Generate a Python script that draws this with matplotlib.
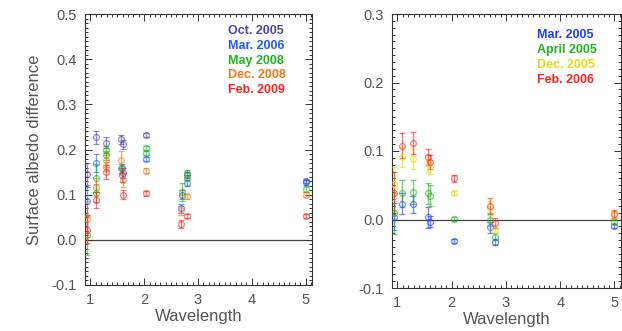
import matplotlib
matplotlib.use("Agg")
import matplotlib.pyplot as plt
from matplotlib.ticker import MultipleLocator
import numpy as np

plt.rcParams['font.family'] = ['Liberation Sans', 'DejaVu Sans']

# ---- left panel data ----
left_labels = ["Oct. 2005", "Mar. 2006", "May 2008", "Dec. 2008", "Feb. 2009"]
left_colors = ["#5540a8", "#1f5cff", "#1fb51f", "#f07a18", "#ff2020"]
left_wl = [
    [0.94, 1.10, 1.29, 1.56, 1.60, 2.04, 2.70, 2.80, 5.0],
    [0.94, 1.10, 1.58, 1.61, 2.04, 2.69, 2.80, 5.0],
    [0.94, 1.10, 1.10, 1.29, 1.29, 1.57, 2.04, 2.04, 2.70, 2.80, 2.80, 5.0],
    [0.94, 1.10, 1.29, 1.29, 1.56, 1.60, 2.04, 2.69, 2.80, 5.0],
    [0.94, 1.10, 1.29, 1.58, 1.61, 2.04, 2.69, 2.80, 5.0],
]
left_val = [
    [0.146, 0.227, 0.215, 0.223, 0.212, 0.232, 0.100, 0.144, 0.130],
    [0.086, 0.170, 0.158, 0.148, 0.179, 0.070, 0.126, 0.127],
    [0.011, 0.137, 0.103, 0.198, 0.187, 0.158, 0.203, 0.192, 0.105, 0.149, 0.138, 0.113],
    [0.046, 0.117, 0.177, 0.162, 0.177, 0.133, 0.153, 0.065, 0.096, 0.100],
    [0.022, 0.088, 0.150, 0.144, 0.100, 0.103, 0.035, 0.053, 0.053],
]
left_err = [
    [0.024, 0.015, 0.012, 0.010, 0.010, 0.005, 0.010, 0.006, 0.005],
    [0.030, 0.020, 0.010, 0.010, 0.005, 0.010, 0.006, 0.005],
    [0.045, 0.030, 0.020, 0.010, 0.010, 0.010, 0.005, 0.005, 0.020, 0.006, 0.006, 0.006],
    [0.040, 0.020, 0.015, 0.010, 0.020, 0.015, 0.006, 0.010, 0.006, 0.005],
    [0.030, 0.018, 0.015, 0.015, 0.010, 0.005, 0.008, 0.005, 0.005],
]

# ---- right panel data ----
right_labels = ["Mar. 2005", "April 2005", "Dec. 2005", "Feb. 2006"]
right_colors = ["#1f3cff", "#1fb51f", "#e0e010", "#ff2020"]
right_wl = [0.93, 1.08, 1.28, 1.57, 1.60, 2.05, 2.70, 2.80, 5.0]
right_val = [
    [0.004, 0.023, 0.022, 0.003, -0.003, -0.031, -0.011, -0.033, -0.010],
    [0.009, 0.038, 0.040, 0.038, 0.035, 0.001, 0.000, -0.025, -0.003],
    [0.052, 0.091, 0.089, 0.082, 0.077, 0.0385, 0.0166, -0.015, 0.006],
    [0.039, 0.108, 0.112, 0.091, 0.084, 0.060, 0.0195, -0.005, 0.008],
]
right_err = [
    [0.020, 0.015, 0.013, 0.015, 0.008, 0.003, 0.008, 0.004, 0.003],
    [0.030, 0.020, 0.018, 0.015, 0.015, 0.003, 0.010, 0.005, 0.004],
    [0.025, 0.015, 0.015, 0.012, 0.010, 0.003, 0.010, 0.004, 0.005],
    [0.030, 0.018, 0.016, 0.012, 0.010, 0.005, 0.012, 0.007, 0.006],
]

W, H = 622, 331
fig = plt.figure(figsize=(W / 100, H / 100), dpi=100)
axL = fig.add_axes([85 / W, 1 - 285 / H, (312 - 85) / W, (285 - 14) / H])
axR = fig.add_axes([392 / W, 1 - 288 / H, (621 - 392) / W, (288 - 14) / H])

grey = "#555555"


def style(ax, ylim, yticks):
    ax.set_xlim(0.9, 5.12)
    ax.set_ylim(*ylim)
    ax.set_xticks([1, 2, 3, 4, 5])
    ax.set_yticks(yticks)
    ax.set_yticklabels(["%.1f" % t if abs(t) > 1e-9 else "0.0" for t in yticks])
    ax.xaxis.set_minor_locator(MultipleLocator(0.1))
    ax.yaxis.set_minor_locator(MultipleLocator(0.01))
    ax.tick_params(which="both", direction="in", top=True, right=True,
                   colors="#333333", labelcolor=grey, labelsize=10.5, width=0.7)
    ax.tick_params(which="major", length=5, pad=6)
    ax.tick_params(which="minor", length=2.5)
    for s in ax.spines.values():
        s.set_color("#333333")
        s.set_linewidth(0.8)
    ax.axhline(0.0, color="#444444", lw=0.9, zorder=1)
    ax.set_xlabel("Wavelength", color=grey, fontsize=12, labelpad=1)


def draw(ax, wl, val, err, color):
    ax.errorbar(wl, val, yerr=err, fmt="o", ms=4.2, mfc="none", mec=color,
                mew=0.9, ecolor=color, elinewidth=1.0, capsize=2, capthick=0.9,
                alpha=0.6, zorder=3)


for wl, v, e, c in zip(left_wl, left_val, left_err, left_colors):
    draw(axL, wl, v, e, c)
for v, e, c in zip(right_val, right_err, right_colors):
    draw(axR, right_wl, v, e, c)

style(axL, (-0.1, 0.5), [-0.1, 0.0, 0.1, 0.2, 0.3, 0.4, 0.5])
style(axR, (-0.1, 0.3), [-0.1, 0.0, 0.1, 0.2, 0.3])
axL.set_ylabel("Surface albedo difference", color=grey, fontsize=12, labelpad=7)

for i, (lab, c) in enumerate(zip(left_labels, left_colors)):
    axL.text(228 / W, 1 - (31 + 14.8 * i) / H, lab, transform=fig.transFigure,
             color=c, fontsize=9, fontweight="bold", va="center", ha="left")
for i, (lab, c) in enumerate(zip(right_labels, right_colors)):
    axR.text(537 / W, 1 - (35 + 15 * i) / H, lab, transform=fig.transFigure,
             color=c, fontsize=9, fontweight="bold", va="center", ha="left")

fig.savefig("out.png", dpi=100)
